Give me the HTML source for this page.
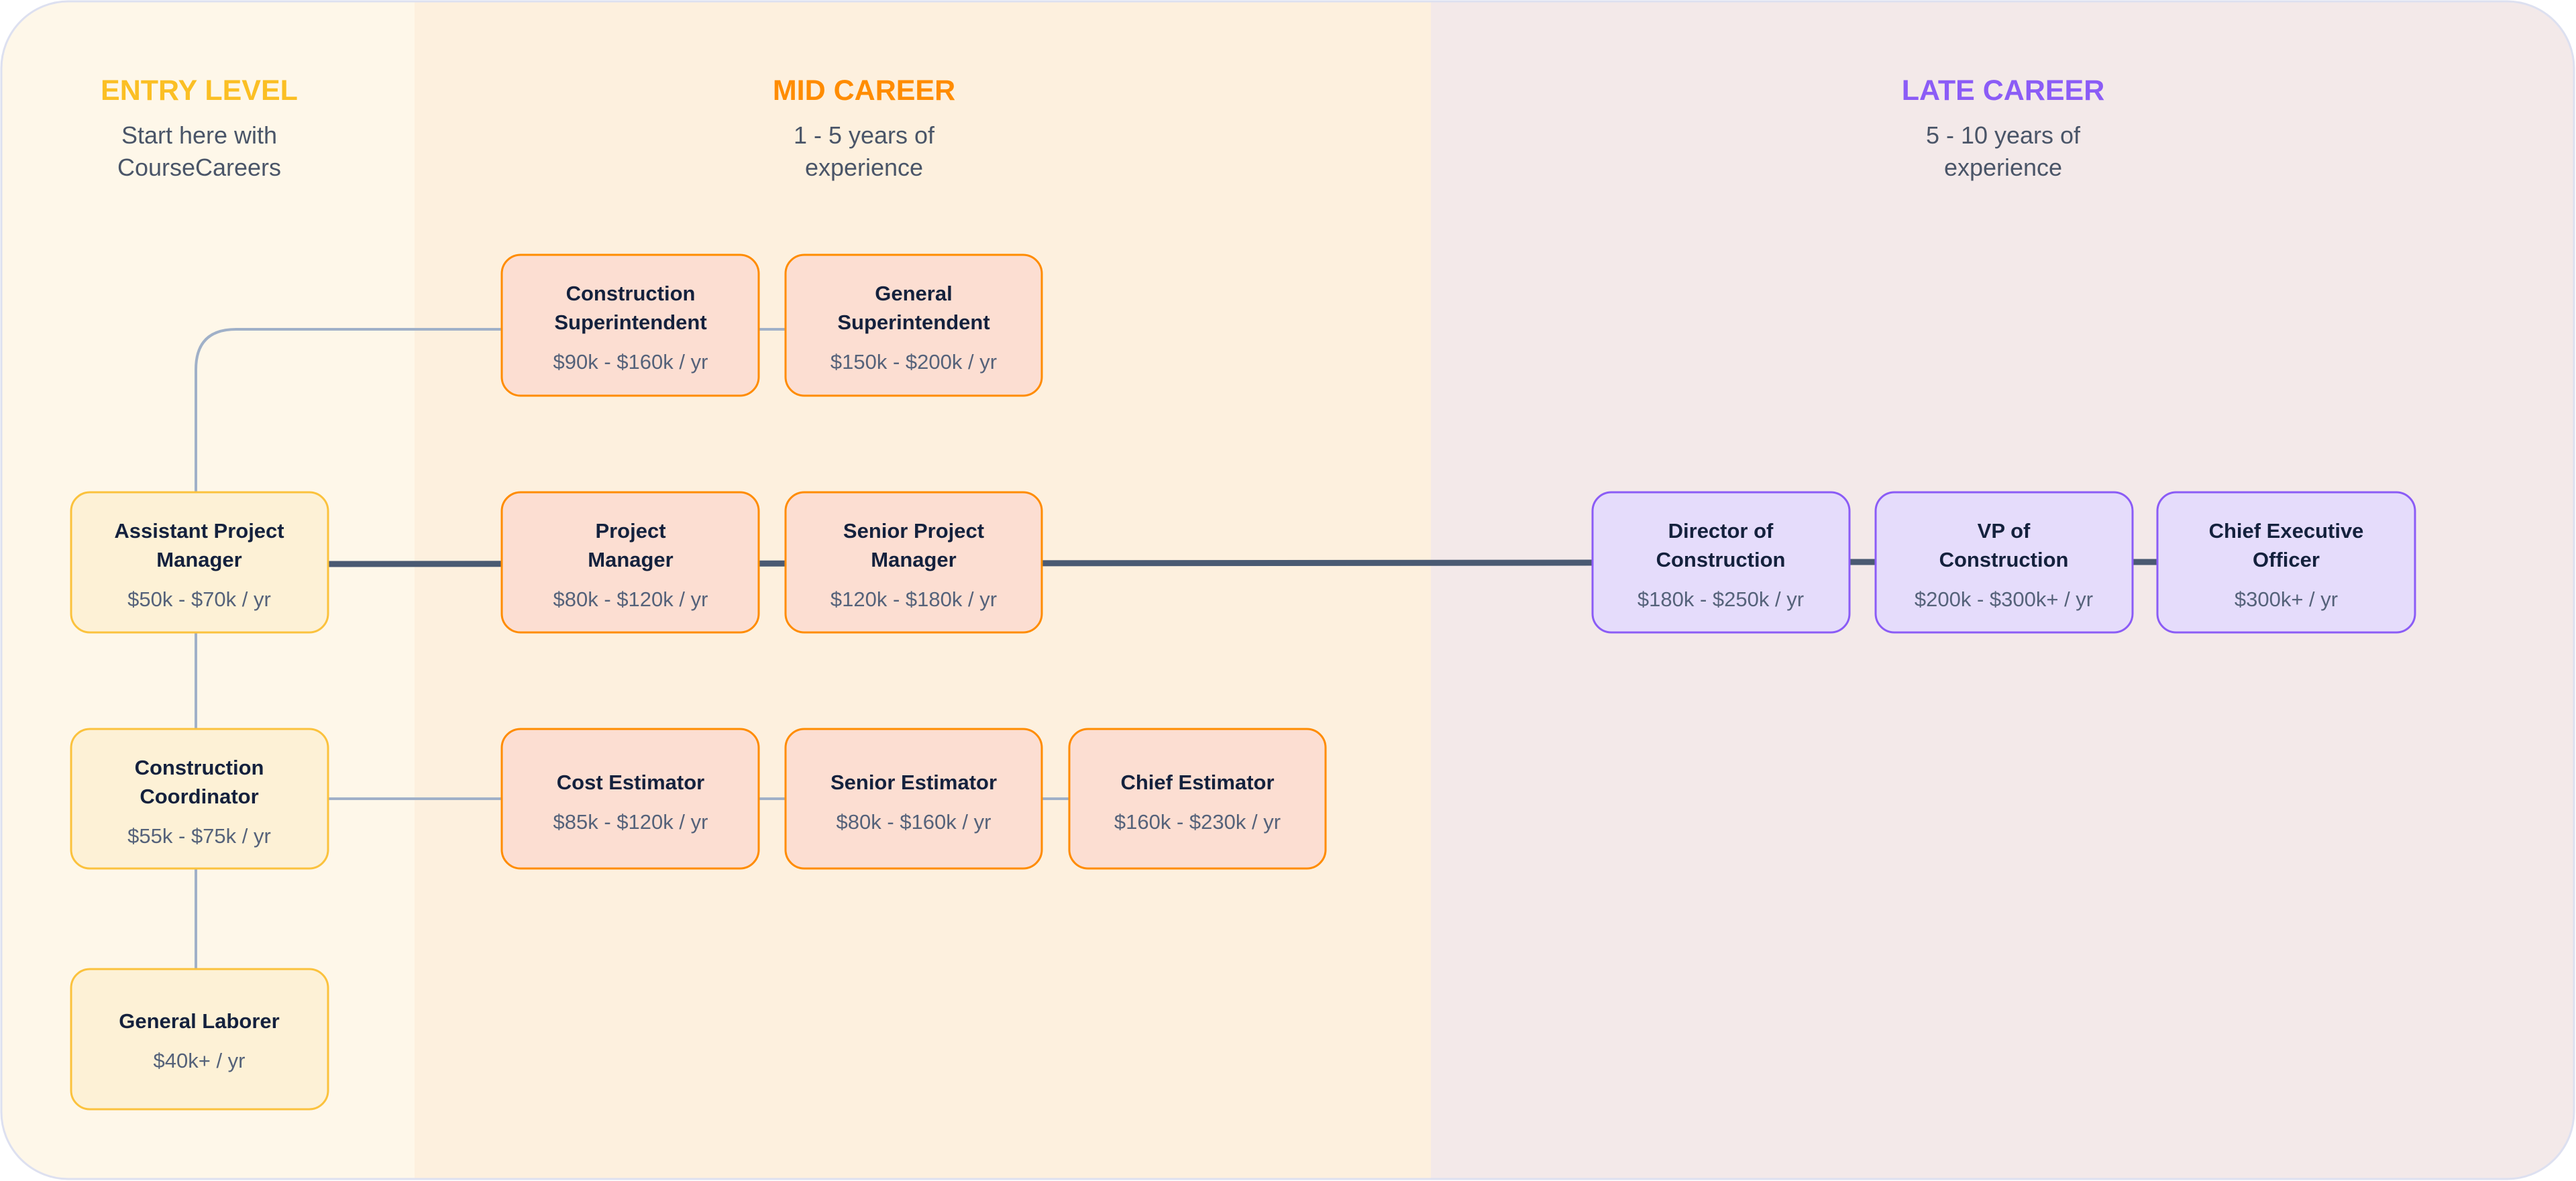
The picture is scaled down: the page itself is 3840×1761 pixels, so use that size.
<!DOCTYPE html>
<html><head><meta charset="utf-8"><style>
html,body{margin:0;padding:0;background:#fff;}
svg{display:block;}
.h{font-family:"Liberation Sans",sans-serif;font-weight:bold;font-size:43px;text-anchor:middle;}
.s{font-family:"Liberation Sans",sans-serif;font-size:36px;fill:#4a5568;text-anchor:middle;}
.t{font-family:"Liberation Sans",sans-serif;font-weight:bold;font-size:31px;fill:#14213d;text-anchor:middle;}
.p{font-family:"Liberation Sans",sans-serif;font-size:31px;fill:#55627a;text-anchor:middle;}
</style></head><body>
<svg width="3840" height="1761" viewBox="0 0 3840 1761" xmlns="http://www.w3.org/2000/svg">
<defs><clipPath id="c"><rect x="2" y="2" width="3835" height="1756" rx="100"/></clipPath></defs>
<g clip-path="url(#c)">
<rect x="0" y="0" width="618" height="1761" fill="#fef7e9"/>
<rect x="618" y="0" width="1515" height="1761" fill="#fdf0de"/>
<rect x="2133" y="0" width="1707" height="1761" fill="#f3e9e9"/>
</g>
<rect x="2" y="2" width="3835" height="1756" rx="100" fill="none" stroke="#dde0f0" stroke-width="3"/>

<text class="h" x="297" y="149" fill="#fbbf24">ENTRY LEVEL</text>
<text class="s" x="297" y="214">Start here with</text>
<text class="s" x="297" y="262">CourseCareers</text>
<text class="h" x="1288" y="149" fill="#ff8c00">MID CAREER</text>
<text class="s" x="1288" y="214">1 - 5 years of</text>
<text class="s" x="1288" y="262">experience</text>
<text class="h" x="2986" y="149" fill="#8b5cf6">LATE CAREER</text>
<text class="s" x="2986" y="214">5 - 10 years of</text>
<text class="s" x="2986" y="262">experience</text>

<!-- thin connectors -->
<g stroke="#a0b0c8" stroke-width="4" fill="none">
<path d="M292 734 V551 Q292 491 352 491 H748"/>
<line x1="1131" y1="491" x2="1171" y2="491"/>
<line x1="292" y1="943" x2="292" y2="1087"/>
<line x1="292" y1="1295" x2="292" y2="1445"/>
<line x1="489" y1="1191" x2="748" y2="1191"/>
<line x1="1131" y1="1191" x2="1171" y2="1191"/>
<line x1="1553" y1="1191" x2="1594" y2="1191"/>
</g>
<!-- thick connector -->
<line x1="489" y1="841" x2="2374" y2="839" stroke="#4a5a72" stroke-width="9"/>
<line x1="2757" y1="838" x2="3216" y2="838" stroke="#4a5a72" stroke-width="9"/>

<!-- entry nodes -->
<g fill="#fdf1d6" stroke="#fbc23d" stroke-width="3">
<rect x="106" y="734" width="383" height="209" rx="28"/>
<rect x="106" y="1087" width="383" height="208" rx="28"/>
<rect x="106" y="1445" width="383" height="209" rx="28"/>
</g>
<!-- mid nodes -->
<g fill="#fcded2" stroke="#ff8c00" stroke-width="3">
<rect x="748" y="380" width="383" height="210" rx="28"/>
<rect x="1171" y="380" width="382" height="210" rx="28"/>
<rect x="748" y="734" width="383" height="209" rx="28"/>
<rect x="1171" y="734" width="382" height="209" rx="28"/>
<rect x="748" y="1087" width="383" height="208" rx="28"/>
<rect x="1171" y="1087" width="382" height="208" rx="28"/>
<rect x="1594" y="1087" width="382" height="208" rx="28"/>
</g>
<!-- late nodes -->
<g fill="#e5dcfb" stroke="#8b5cf6" stroke-width="3">
<rect x="2374" y="734" width="383" height="209" rx="28"/>
<rect x="2796" y="734" width="383" height="209" rx="28"/>
<rect x="3216" y="734" width="384" height="209" rx="28"/>
</g>

<!-- labels -->
<text class="t" x="297" y="802">Assistant Project</text><text class="t" x="297" y="845">Manager</text><text class="p" x="297" y="904">$50k - $70k / yr</text>
<text class="t" x="297" y="1155">Construction</text><text class="t" x="297" y="1198">Coordinator</text><text class="p" x="297" y="1257">$55k - $75k / yr</text>
<text class="t" x="297" y="1533">General Laborer</text><text class="p" x="297" y="1592">$40k+ / yr</text>

<text class="t" x="940" y="448">Construction</text><text class="t" x="940" y="491">Superintendent</text><text class="p" x="940" y="550">$90k - $160k / yr</text>
<text class="t" x="1362" y="448">General</text><text class="t" x="1362" y="491">Superintendent</text><text class="p" x="1362" y="550">$150k - $200k / yr</text>

<text class="t" x="940" y="802">Project</text><text class="t" x="940" y="845">Manager</text><text class="p" x="940" y="904">$80k - $120k / yr</text>
<text class="t" x="1362" y="802">Senior Project</text><text class="t" x="1362" y="845">Manager</text><text class="p" x="1362" y="904">$120k - $180k / yr</text>

<text class="t" x="940" y="1177">Cost Estimator</text><text class="p" x="940" y="1236">$85k - $120k / yr</text>
<text class="t" x="1362" y="1177">Senior Estimator</text><text class="p" x="1362" y="1236">$80k - $160k / yr</text>
<text class="t" x="1785" y="1177">Chief Estimator</text><text class="p" x="1785" y="1236">$160k - $230k / yr</text>

<text class="t" x="2565" y="802">Director of</text><text class="t" x="2565" y="845">Construction</text><text class="p" x="2565" y="904">$180k - $250k / yr</text>
<text class="t" x="2987" y="802">VP of</text><text class="t" x="2987" y="845">Construction</text><text class="p" x="2987" y="904">$200k - $300k+ / yr</text>
<text class="t" x="3408" y="802">Chief Executive</text><text class="t" x="3408" y="845">Officer</text><text class="p" x="3408" y="904">$300k+ / yr</text>
</svg>
</body></html>
